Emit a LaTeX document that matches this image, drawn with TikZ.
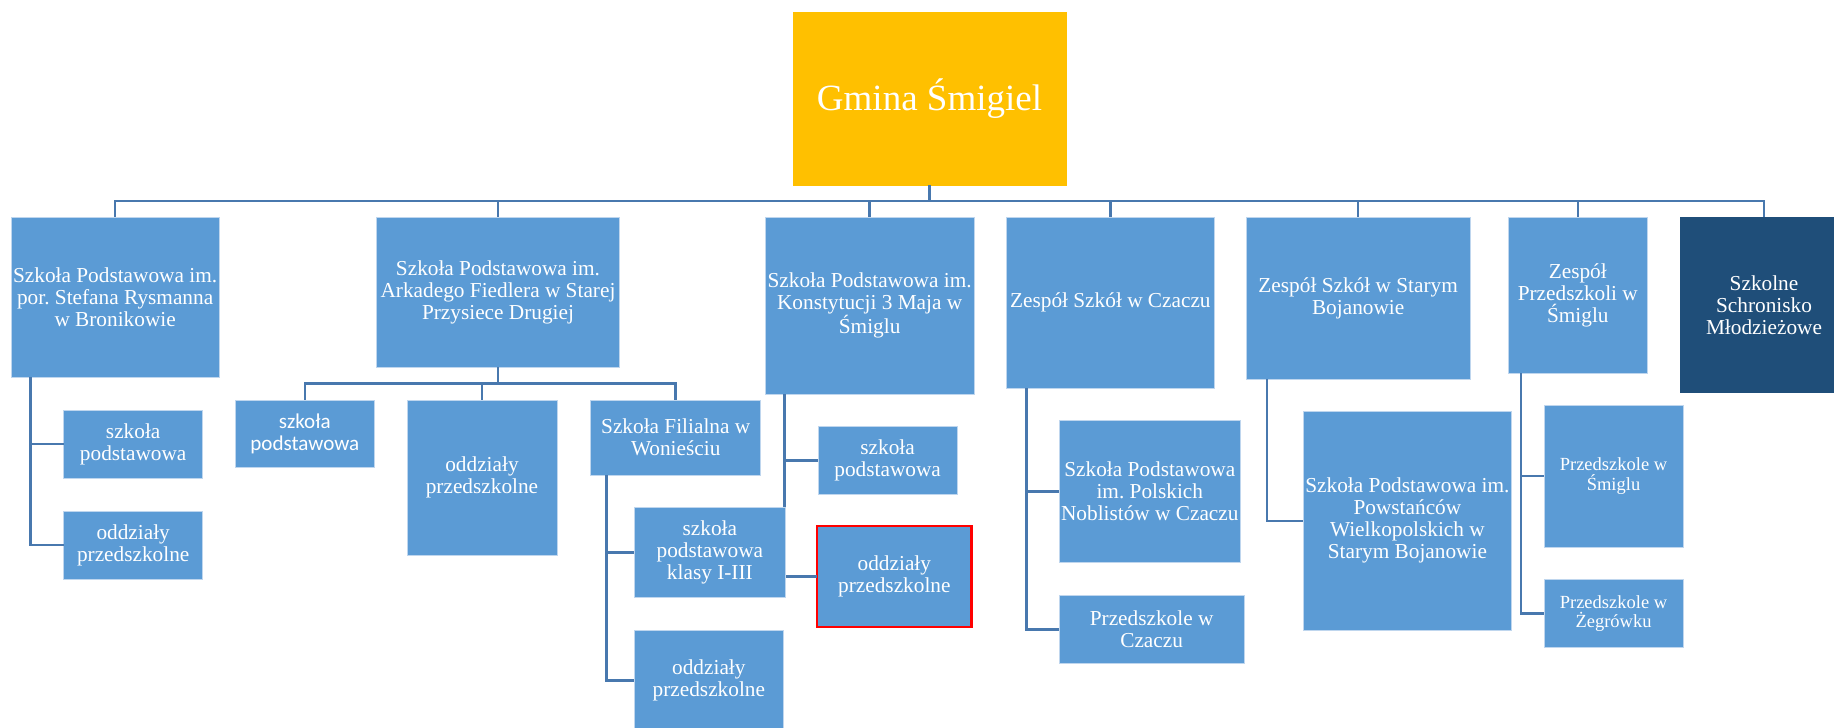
\documentclass[tikz,border=0pt]{standalone}
\usepackage{fontspec}
\setmainfont{Liberation Serif}
\newfontfamily\calibrifont{Carlito}
\definecolor{boxblue}{HTML}{5B9BD5}
\definecolor{boxedge}{HTML}{BFD6EE}
\definecolor{lineblue}{HTML}{4878AE}
\definecolor{darkblue}{HTML}{1F4E79}
\definecolor{gold}{HTML}{FFC000}
\tikzset{
  box/.style={rectangle, inner sep=0pt, outer sep=0pt, anchor=north west,
    fill=boxblue, draw=boxedge, line width=0.8pt, text=white, align=center,
    font=\frenchspacing\fontsize{21.3}{22}\selectfont},
  smalltext/.style={font=\frenchspacing\fontsize{18.5}{19.3}\selectfont},
  sanstext/.style={font=\frenchspacing\calibrifont\fontsize{21.1}{22.5}\selectfont},
  darkbox/.style={fill=darkblue, draw=darkblue},
  goldbox/.style={fill=gold, draw=gold, font=\fontsize{37}{40}\selectfont},
  redbox/.style={draw=red, line width=2.5pt},
  conn/.style={draw=lineblue, line width=2.6pt},
}
\begin{document}
\begin{tikzpicture}[x=1pt,y=-1pt]
\useasboundingbox (0,0) rectangle (1834,728);
\fill[white] (0,0) rectangle (1834,728);
\clip (0,0) rectangle (1834,728);

\coordinate (bus) at (0,201);
\coordinate (sub2) at (0,383.3);

% top
\node[box, goldbox, minimum width=273, minimum height=173] (gmina) at (793,12) {Gmina Śmigiel};

% first row
\node[box, minimum width=208.3, minimum height=160] (b1) at (11,217.3)
  {Szkoła Podstawowa im.\\por. Stefana Rysmanna\\w Bronikowie};
\node[box, minimum width=242.6, minimum height=150] (b2) at (376.7,217.3)
  {Szkoła Podstawowa im.\\Arkadego Fiedlera w Starej\\Przysiece Drugiej};
\node[box, minimum width=209.3, minimum height=176.7] (b3) at (765,217.3)
  {Szkoła Podstawowa im.\\Konstytucji 3 Maja w\\Śmiglu};
\node[box, minimum width=207.3, minimum height=171] (b4) at (1006.7,217.3)
  {Zespół Szkół w Czaczu};
\node[box, minimum width=223.7, minimum height=161.7] (b5) at (1246.3,217.3)
  {Zespół Szkół w Starym\\Bojanowie};
\node[box, minimum width=139, minimum height=155.7] (b6) at (1508.3,217.3)
  {Zespół\\Przedszkoli w\\Śmiglu};
\node[box, darkbox, minimum width=168, minimum height=175.4] (b7) at (1680,217.3)
  {Szkolne\\Schronisko\\Młodzieżowe};

\foreach \b in {b1,b2,b3,b4,b5,b6,b7}
  \draw[conn] (gmina.south) -- (gmina.south |- bus) -| (\b.north);

% children of b1
\node[box, minimum width=139, minimum height=68.3] (b1a) at (63.7,410) {szkoła\\podstawowa};
\node[box, minimum width=139, minimum height=68] (b1b) at (63.7,511) {oddziały\\przedszkolne};
\draw[conn] ([xshift=19.3pt]b1.south west) |- (b1a.west);
\draw[conn] ([xshift=19.3pt]b1.south west) |- (b1b.west);

% children of b2
\node[box, sanstext, minimum width=139, minimum height=67.7] (b2a) at (235.3,400) {szkoła\\podstawowa};
\node[box, minimum width=150, minimum height=155] (b2b) at (407,400) {oddziały\\przedszkolne};
\node[box, minimum width=170, minimum height=75] (fil) at (590.7,400) {Szkoła Filialna w\\Wonieściu};
\foreach \c in {b2a,b2b,fil}
  \draw[conn] (b2.south) -- (b2.south |- sub2) -| (\c.north);

% children of b3
\node[box, minimum width=139.3, minimum height=67.6] (b3a) at (818,426.7) {szkoła\\podstawowa};
\node[box, redbox, minimum width=154.3, minimum height=100.9] (b3b) at (817.2,526.2) {oddziały\\przedszkolne};
\draw[conn] ([xshift=19.7pt]b3.south west) |- (b3a.west);
\draw[conn] ([xshift=19.7pt]b3.south west) |- (b3b.west);

% children of Filialna
\node[box, minimum width=151.7, minimum height=89.6] (f1) at (634,507.7) {szkoła\\podstawowa\\klasy I-III};
\node[box, minimum width=149.7, minimum height=100] (f2) at (634,630.7) {oddziały\\przedszkolne};
\draw[conn] ([xshift=15.6pt]fil.south west) |- (f1.west);
\draw[conn] ([xshift=15.6pt]fil.south west) |- (f2.west);

% children of b4
\node[box, minimum width=181, minimum height=142] (b4a) at (1059.3,420.7)
  {Szkoła Podstawowa\\im. Polskich\\Noblistów w Czaczu};
\node[box, minimum width=184.7, minimum height=68] (b4b) at (1059.3,595.7)
  {Przedszkole w\\Czaczu};
\draw[conn] ([xshift=19.8pt]b4.south west) |- (b4a.west);
\draw[conn] ([xshift=19.8pt]b4.south west) |- (b4b.west);

% children of b5
\node[box, minimum width=208.2, minimum height=218.3] (b5a) at (1303.3,411.7)
  {Szkoła Podstawowa im.\\Powstańców\\Wielkopolskich w\\Starym Bojanowie};
\draw[conn] ([xshift=20.7pt]b5.south west) |- (b5a.west);

% children of b6
\node[box, smalltext, minimum width=139, minimum height=141.7] (b6a) at (1544,405.3)
  {Przedszkole w\\Śmiglu};
\node[box, smalltext, minimum width=139, minimum height=68.4] (b6b) at (1544,579.3)
  {Przedszkole w\\Żegrówku};
\draw[conn] ([xshift=12.7pt]b6.south west) |- (b6a.west);
\draw[conn] ([xshift=12.7pt]b6.south west) |- (b6b.west);
\end{tikzpicture}
\end{document}
